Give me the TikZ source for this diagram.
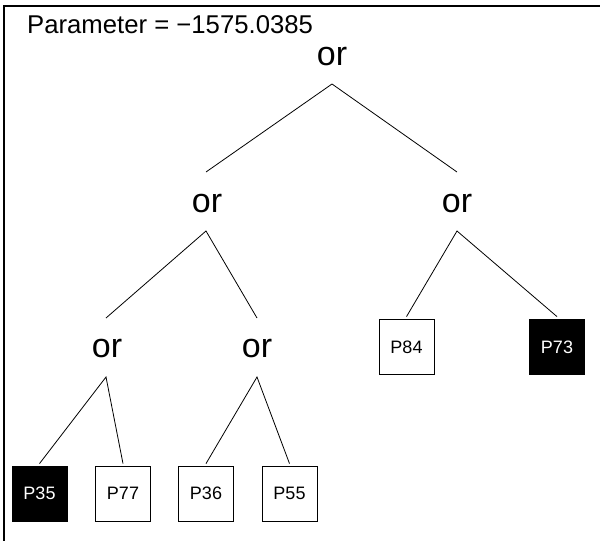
\documentclass[tikz,border=0pt]{standalone}
\usepackage{fontspec}
\setmainfont{Liberation Sans}
\begin{document}
\begin{tikzpicture}[x=1pt,y=-1pt,
  ornode/.style={font=\fontsize{34}{34}\selectfont, inner sep=0pt, anchor=base},
  leaf/.style={draw, minimum size=55pt, inner sep=0pt, font=\fontsize{18}{18}\selectfont, line width=0.8pt},
  darkleaf/.style={leaf, fill=black, text=white},
  edge/.style={line width=0.8pt}]
\useasboundingbox (0,0) rectangle (600,541);
\draw[line width=1.5pt] (600,6) -- (4,6) -- (4,541);
\node[anchor=base west, inner sep=0pt, font=\fontsize{25.7}{25.7}\selectfont] (param) at (27,33) {Parameter = −1575.0385};
% or nodes
\node[ornode] (or0) at (332,65) {or};
\node[ornode] (or1) at (207,212) {or};
\node[ornode] (or2) at (457,212) {or};
\node[ornode] (or3) at (107,357) {or};
\node[ornode] (or4) at (257,357) {or};
% apex / top coordinates
\coordinate (a0) at (332,84);
\coordinate (t1) at (206,172);
\coordinate (t2) at (457,172);
\coordinate (a1) at (206,231);
\coordinate (a2) at (457,231);
\coordinate (t3) at (106,318);
\coordinate (t4) at (257,318);
\coordinate (a3) at (106,377);
\coordinate (a4) at (257,377);
% leaves
\node[darkleaf] (l35) at (39.5,493.5) {P35};
\node[leaf] (l77) at (123,493.5) {P77};
\node[leaf] (l36) at (206,493.5) {P36};
\node[leaf] (l55) at (289.5,493.5) {P55};
\node[leaf] (l84) at (406.5,347) {P84};
\node[darkleaf] (l73) at (557,347) {P73};
% edges
\draw[edge] (t1) -- (a0) -- (t2);
\draw[edge] (t3) -- (a1) -- (t4);
\draw[edge] ([yshift=2.5pt]l84.north) -- (a2) -- ([yshift=2.5pt]l73.north);
\draw[edge] ([yshift=2pt]l35.north) -- (a3) -- ([yshift=2pt]l77.north);
\draw[edge] ([yshift=2pt]l36.north) -- (a4) -- ([yshift=2pt]l55.north);
\end{tikzpicture}
\end{document}
